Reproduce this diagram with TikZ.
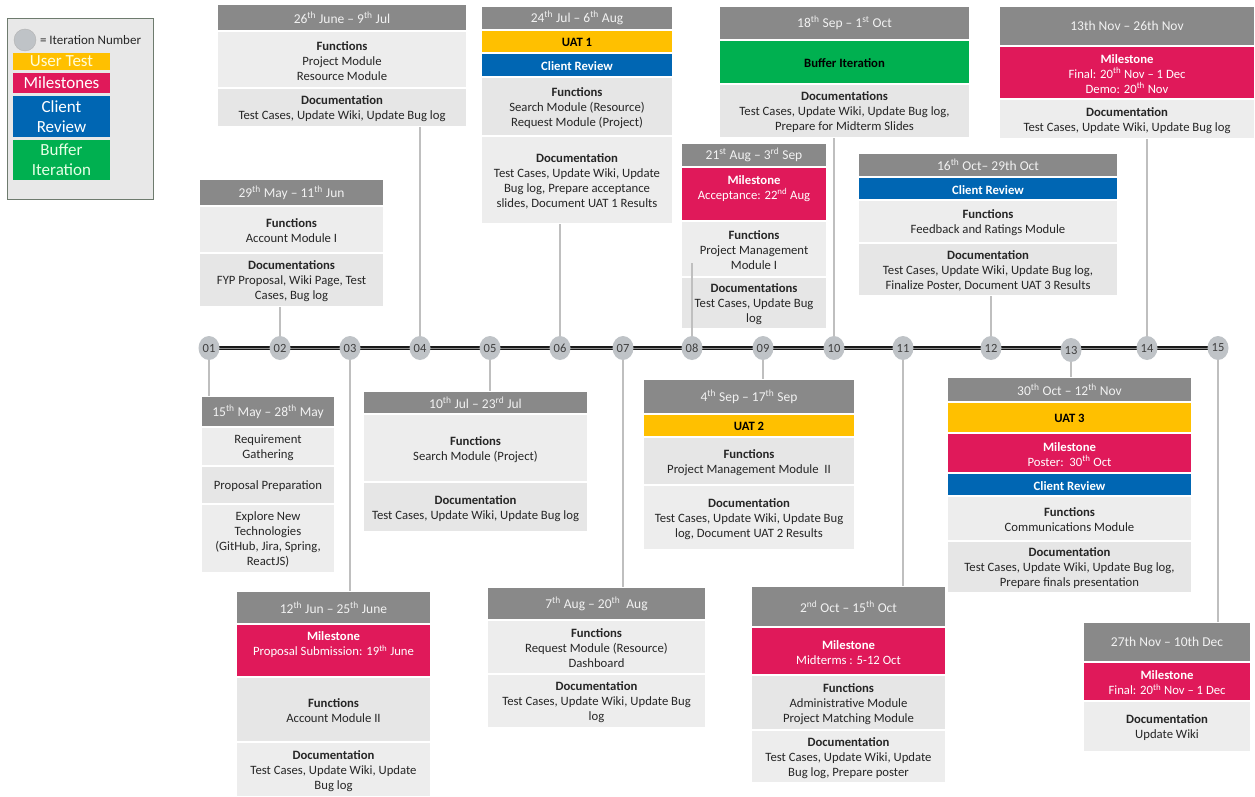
\documentclass[tikz,border=0pt]{standalone}
\usepackage{fontspec}
\setmainfont{Carlito}
\usetikzlibrary{calc,shapes.geometric,backgrounds}
\definecolor{hdrc}{HTML}{898989}
\definecolor{secAc}{HTML}{EDEDED}
\definecolor{secBc}{HTML}{E6E6E6}
\definecolor{milec}{HTML}{E0195A}
\definecolor{uatc}{HTML}{FFC000}
\definecolor{crevc}{HTML}{0066B3}
\definecolor{bufc}{HTML}{00B050}
\definecolor{dotc}{HTML}{BFC3C7}
\definecolor{connc}{HTML}{BFBFBF}
\definecolor{txtc}{HTML}{262626}
\definecolor{legbg}{HTML}{E8E8E8}
\definecolor{legbd}{HTML}{6E7B6E}
\tikzset{
  every node/.style={inner sep=0pt, outer sep=0pt},
  sect/.style={anchor=north west, draw=white, line width=1.6pt},
  hdr/.style={sect, fill=hdrc},
  sa/.style={sect, fill=secAc},
  sb/.style={sect, fill=secBc},
  mile/.style={sect, fill=milec},
  uat/.style={sect, fill=uatc},
  crev/.style={sect, fill=crevc},
  buff/.style={sect, fill=bufc},
  basetxt/.style={align=center, yshift=-1.3pt, font=\fontsize{12.7}{15}\selectfont},
  hdr t/.style={align=center, font=\fontsize{13.5}{15}\selectfont, text=white!95!black},
  sa t/.style={basetxt, text=txtc},
  sb t/.style={basetxt, text=txtc},
  mile t/.style={basetxt, text=white},
  uat t/.style={basetxt, text=black, font=\fontsize{12.7}{15}\selectfont\bfseries},
  crev t/.style={basetxt, text=white, font=\fontsize{12.7}{15}\selectfont\bfseries},
  buff t/.style={basetxt, text=black, font=\fontsize{12.7}{15}\selectfont\bfseries},
  dotnode/.style={ellipse, fill=dotc, minimum width=21pt, minimum height=24pt, text=black!75, font=\fontsize{12.5}{13}\selectfont},
  conn/.style={draw=connc, line width=1.3pt},
  legitem/.style={minimum width=97pt, align=center, font=\fontsize{17}{20}\selectfont},
}
% #1 text shift, #2 name, #3 x1, #4 y1, #5 x2, #6 y2, #7 style, #8 text
\newcommand\bx[8][0]{%
  \node[#7, minimum width={#5pt-#3pt}, minimum height={#6pt-#4pt}] (#2) at (#3,#4) {};
  \node[#7 t] (#2t) at ($(#2.center)+(0,#1)$) {#8};}
\newcommand\sth{\textsuperscript{th}}
\begin{document}
\begin{tikzpicture}[x=1pt,y=-1pt]
\useasboundingbox (0,0) rectangle (1255,797);

% legend
\node[anchor=north west, minimum width=146pt, minimum height=181pt, fill=legbg, draw=legbd, line width=0.8pt] (legend) at (7,18) {};
\node[ellipse, minimum width=22pt, minimum height=22pt, fill=dotc, draw=gray!60] (legdot) at (25,40) {};
\node[anchor=west, font=\fontsize{13}{14}\selectfont, text=txtc] (legdottxt) at (40,40) {= Iteration Number};
\node[legitem, fill=uatc, minimum height=17pt, text=yellow!15!white] (lut) at (61.5,61.5) {User Test};
\node[legitem, fill=milec, minimum height=20pt, text=white] (lms) at (61.5,83) {Milestones};
\node[legitem, fill=crevc, minimum height=41pt, text=white] (lcr) at (61.5,116.5) {Client\\Review};
\node[legitem, fill=bufc, minimum height=40pt, text=green!10!white] (lbi) at (61.5,160) {Buffer\\Iteration};

% Box 1
\bx{b1h}{201}{396}{335}{427}{hdr}{15\sth{} May – 28\sth{} May}
\bx{b1a}{201}{427}{335}{466}{sa}{Requirement\\Gathering}
\bx{b1b}{201}{466}{335}{504}{sb}{Proposal Preparation}
\bx{b1c}{201}{504}{335}{573}{sa}{Explore New\\Technologies\\(GitHub, Jira, Spring,\\ReactJS)}
% Box 2
\bx{b2h}{199}{179}{384}{206}{hdr}{29\sth{} May – 11\sth{} Jun}
\bx{b2a}{199}{206}{384}{253}{sa}{\textbf{Functions}\\Account Module I}
\bx{b2b}{199}{253}{384}{307}{sb}{\textbf{Documentations}\\FYP Proposal, Wiki Page, Test\\Cases, Bug log}
% Box 3
\bx{b3h}{236}{591}{431}{624}{hdr}{12\sth{} Jun – 25\sth{} June}
\bx[-7]{b3m}{236}{624}{431}{677}{mile}{\textbf{Milestone}\\Proposal Submission: 19\sth{} June}
\bx{b3a}{236}{677}{431}{742}{sb}{\textbf{Functions}\\Account Module II}
\bx{b3b}{236}{742}{431}{797}{sa}{\textbf{Documentation}\\Test Cases, Update Wiki, Update\\Bug log}
% Box 4
\bx{b4h}{217}{4}{467}{31}{hdr}{26\sth{} June – 9\sth{} Jul}
\bx{b4a}{217}{31}{467}{88}{sa}{\textbf{Functions}\\Project Module\\Resource Module}
\bx{b4b}{217}{88}{467}{127}{sb}{\textbf{Documentation}\\Test Cases, Update Wiki, Update Bug log}
% Box 5
\bx{b5h}{363}{391}{588}{414}{hdr}{10\sth{} Jul – 23\textsuperscript{rd} Jul}
\bx{b5a}{363}{414}{588}{482}{sa}{\textbf{Functions}\\Search Module (Project)}
\bx{b5b}{363}{482}{588}{532}{sb}{\textbf{Documentation}\\Test Cases, Update Wiki, Update Bug log}
% Box 6
\bx{b6h}{481}{6}{673}{30}{hdr}{24\sth{} Jul – 6\sth{} Aug}
\bx{b6u}{481}{30}{673}{53}{uat}{UAT 1}
\bx{b6c}{481}{53}{673}{77}{crev}{Client Review}
\bx{b6a}{481}{77}{673}{136}{sb}{\textbf{Functions}\\Search Module (Resource)\\Request Module (Project)}
\bx{b6b}{481}{136}{673}{224}{sa}{\textbf{Documentation}\\Test Cases, Update Wiki, Update\\Bug log, Prepare acceptance\\slides, Document UAT 1 Results}
% Box 7
\bx{b7h}{487}{587}{706}{620}{hdr}{7\sth{} Aug – 20\sth{}\ \ Aug}
\bx{b7a}{487}{620}{706}{674}{sa}{\textbf{Functions}\\Request Module (Resource)\\Dashboard}
\bx{b7b}{487}{674}{706}{728}{sa}{\textbf{Documentation}\\Test Cases, Update Wiki, Update Bug\\log}
% Box 8
\bx{b8h}{681}{143}{827}{167}{hdr}{21\textsuperscript{st} Aug – 3\textsuperscript{rd} Sep}
\bx[-7]{b8m}{681}{167}{827}{221}{mile}{\textbf{Milestone}\\Acceptance: 22\textsuperscript{nd} Aug}
\bx{b8a}{681}{221}{827}{277}{sa}{\textbf{Functions}\\Project Management\\Module I}
\bx{b8b}{681}{277}{827}{329}{sb}{\textbf{Documentations}\\Test Cases, Update Bug\\log}
% Box 9
\bx{b9h}{643}{379}{855}{414}{hdr}{4\sth{} Sep – 17\sth{} Sep}
\bx{b9u}{643}{414}{855}{437}{uat}{UAT 2}
\bx{b9a}{643}{437}{855}{485}{sb}{\textbf{Functions}\\Project Management Module\ \ II}
\bx{b9b}{643}{485}{855}{550}{sa}{\textbf{Documentation}\\Test Cases, Update Wiki, Update Bug\\log, Document UAT 2 Results}
% Box 10
\bx{b10h}{719}{6}{970}{40}{hdr}{18\sth{} Sep – 1\textsuperscript{st} Oct}
\bx{b10u}{719}{40}{970}{84}{buff}{Buffer Iteration}
\bx{b10b}{719}{84}{970}{138}{sb}{\textbf{Documentations}\\Test Cases, Update Wiki, Update Bug log,\\Prepare for Midterm Slides}
% Box 11
\bx{b11h}{751}{586}{946}{627}{hdr}{2\textsuperscript{nd} Oct – 15\sth{} Oct}
\bx{b11m}{751}{627}{946}{675}{mile}{\textbf{Milestone}\\Midterms : 5-12 Oct}
\bx{b11a}{751}{675}{946}{730}{sb}{\textbf{Functions}\\Administrative Module\\Project Matching Module}
\bx{b11b}{751}{730}{946}{783}{sa}{\textbf{Documentation}\\Test Cases, Update Wiki, Update\\Bug log, Prepare poster}
% Box 12
\bx{b12h}{858}{153}{1118}{177}{hdr}{16\sth{} Oct– 29th Oct}
\bx{b12c}{858}{177}{1118}{200}{crev}{Client Review}
\bx{b12a}{858}{200}{1118}{243}{sa}{\textbf{Functions}\\Feedback and Ratings Module}
\bx{b12b}{858}{243}{1118}{296}{sb}{\textbf{Documentation}\\Test Cases, Update Wiki, Update Bug log,\\Finalize Poster, Document UAT 3 Results}
% Box 13
\bx{b13h}{947}{377}{1192}{402}{hdr}{30\sth{} Oct – 12\sth{} Nov}
\bx{b13u}{947}{402}{1192}{433}{uat}{UAT 3}
\bx{b13m}{947}{433}{1192}{473}{mile}{\textbf{Milestone}\\Poster:\ \ 30\sth{} Oct}
\bx{b13c}{947}{473}{1192}{496}{crev}{Client Review}
\bx{b13a}{947}{496}{1192}{541}{sa}{\textbf{Functions}\\Communications\ Module}
\bx{b13b}{947}{541}{1192}{593}{sb}{\textbf{Documentation}\\Test Cases, Update Wiki, Update Bug log,\\Prepare\ finals presentation}
% Box 14
\bx{b14h}{999}{6}{1255}{46}{hdr}{13th Nov – 26th Nov}
\bx{b14m}{999}{46}{1255}{99}{mile}{\textbf{Milestone}\\Final: 20\sth{} Nov – 1 Dec\\Demo: 20\sth{} Nov}
\bx{b14b}{999}{99}{1255}{139}{sa}{\textbf{Documentation}\\Test Cases, Update Wiki, Update Bug log}
% Box 15
\bx{b15h}{1083}{622}{1251}{662}{hdr}{27th Nov – 10th Dec}
\bx{b15m}{1083}{662}{1251}{701}{mile}{\textbf{Milestone}\\Final: 20\sth{} Nov – 1 Dec}
\bx{b15b}{1083}{701}{1251}{752}{sa}{\textbf{Documentation}\\Update Wiki}

% timeline dots
\node[dotnode] (c01) at (209,348) {01};
\node[dotnode] (c02) at (280,348) {02};
\node[dotnode] (c03) at (350,348) {03};
\node[dotnode] (c04) at (420,348) {04};
\node[dotnode] (c05) at (490,348) {05};
\node[dotnode] (c06) at (560,348) {06};
\node[dotnode] (c07) at (623,348) {07};
\node[dotnode] (c08) at (692,348) {08};
\node[dotnode] (c09) at (763,348) {09};
\node[dotnode] (c10) at (834,348) {10};
\node[dotnode] (c11) at (903,348) {11};
\node[dotnode] (c12) at (991,348) {12};
\node[dotnode] (c13) at (1071,350) {13};
\node[dotnode] (c14) at (1147,348) {14};
\node[dotnode] (c15) at (1218,348) {15};
\begin{pgfonlayer}{background}
\fill[white] (0,0) rectangle (1255,797);
\draw[draw=black!90, double=black!45, double distance=0.9pt, line width=1.2pt] (c01.center) -- (c15.center);
\end{pgfonlayer}

% connectors
\coordinate (k08) at (692,263);
\draw[conn] (c01.south) -- (c01.south |- b1h.north);
\draw[conn] (c02.north) -- (c02.north |- b2b.south);
\draw[conn] (c03.south) -- (c03.south |- b3h.north);
\draw[conn] (c04.north) -- (c04.north |- b4b.south);
\draw[conn] (c05.south) -- (c05.south |- b5h.north);
\draw[conn] (c06.north) -- (c06.north |- b6b.south);
\draw[conn] (c07.south) -- (c07.south |- b7h.north);
\draw[conn] (c08.north) -- (k08);
\draw[conn] (c09.south) -- (c09.south |- b9h.north);
\draw[conn] (c10.north) -- (c10.north |- b10b.south);
\draw[conn] (c11.south) -- (c11.south |- b11h.north);
\draw[conn] (c12.north) -- (c12.north |- b12b.south);
\draw[conn] (c13.south) -- (c13.south |- b13h.north);
\draw[conn] (c14.north) -- (c14.north |- b14b.south);
\draw[conn] (c15.south) -- (c15.south |- b15h.north);
\end{tikzpicture}
\end{document}
